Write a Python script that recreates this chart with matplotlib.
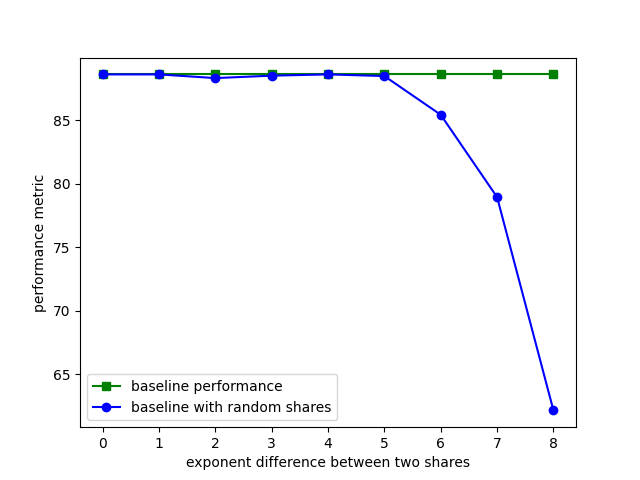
import numpy as np
from matplotlib import pyplot as plt

# exponent difference vs performance
exp_diff = [0, 1, 2, 3, 4, 5, 6, 7, 8]
baseline = [88.63, 88.63, 88.63, 88.63, 88.63, 88.63, 88.63, 88.63, 88.63]
random_shares = [88.63, 88.63, 88.34, 88.53, 88.63, 88.50, 85.45, 78.96, 62.16]

fig = plt.figure(figsize=(6.4, 4.8), dpi=100)
plt.plot(exp_diff, baseline, "s-", color="green", label="baseline performance")
plt.plot(exp_diff, random_shares, "o-", color="blue", label="baseline with random shares")
plt.xlabel("exponent difference between two shares")
plt.ylabel("performance metric")
plt.legend(loc="lower left")
plt.savefig("out.png")
